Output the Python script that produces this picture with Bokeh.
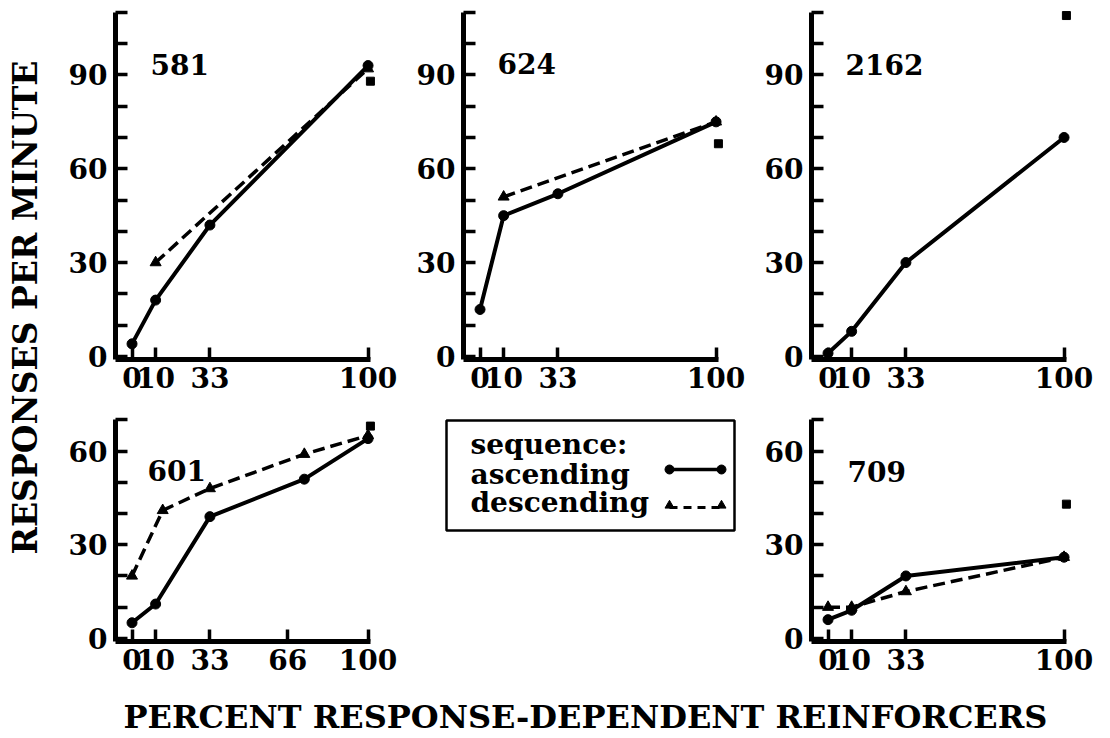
from bokeh.plotting import figure
from bokeh.models import Range1d, FixedTicker, Label, Spacer
from bokeh.layouts import row, column
from bokeh.embed import file_html
from bokeh.resources import INLINE

# ---------------- data ----------------
x_ticks_std = [0, 10, 33, 100]
x_ticks_601 = [0, 10, 33, 66, 100]

# bird 581
asc_581_x = [0, 10, 33, 100]
asc_581 = [4, 18, 42, 93]
desc_581_x = [10, 100]
desc_581 = [30, 92]
sq_581_x = [101]
sq_581 = [88]

# bird 624
asc_624_x = [0, 10, 33, 100]
asc_624 = [15, 45, 52, 75]
desc_624_x = [10, 100]
desc_624 = [51, 75]
sq_624_x = [101]
sq_624 = [68]

# bird 2162
asc_2162_x = [0, 10, 33, 100]
asc_2162 = [1, 8, 30, 70]
desc_2162_x = []
desc_2162 = []
sq_2162_x = [101]
sq_2162 = [109]

# bird 601
asc_601_x = [0, 10, 33, 73, 100]
asc_601 = [5, 11, 39, 51, 64]
desc_601_x = [0, 13, 33, 73, 100]
desc_601 = [20, 41, 48, 59, 65]
sq_601_x = [101]
sq_601 = [68]

# bird 709
asc_709_x = [0, 10, 33, 100]
asc_709 = [6, 9, 20, 26]
desc_709_x = [0, 10, 33, 100]
desc_709 = [10, 10, 15, 26]
sq_709_x = [101]
sq_709 = [43]

y_major_top = [0, 30, 60, 90]
y_minor_top = [10, 20, 40, 50, 70, 80, 100, 110]
y_major_bot = [0, 30, 60]
y_minor_bot = [10, 20, 40, 50, 70]

legend_title = "sequence:"
legend_labels = ["ascending", "descending"]
y_title = "RESPONSES PER MINUTE"
x_title = "PERCENT RESPONSE-DEPENDENT REINFORCERS"

FONT = "DejaVu Serif"


def base_fig(width, height, xr, yr, left, right, top, bottom, axes=True):
    kw = dict(width=width, height=height, x_range=Range1d(*xr), y_range=Range1d(*yr),
              toolbar_location=None, output_backend="svg",
              min_border_left=left, min_border_right=right,
              min_border_top=top, min_border_bottom=bottom)
    if not axes:
        kw.update(x_axis_type=None, y_axis_type=None)
    p = figure(**kw)
    p.outline_line_color = None
    p.background_fill_color = "white"
    p.border_fill_color = "white"
    if axes:
        p.xgrid.visible = False
        p.ygrid.visible = False
    return p


def panel(name, ax, ay, dx, dy, sx, sy, xticks, yr, ybounds, ymaj, ymin,
          width, height, left, right, top, bottom, lab_x, lab_y):
    p = base_fig(width, height, (-7, 104), yr, left, right, top, bottom)
    for ax_ in (p.xaxis[0], p.yaxis[0]):
        ax_.axis_line_width = 5
        ax_.axis_line_color = "black"
        ax_.major_tick_line_width = 3.5
        ax_.minor_tick_line_width = 3.5
        ax_.major_tick_in = 12
        ax_.major_tick_out = 0
        ax_.minor_tick_in = 12
        ax_.minor_tick_out = 0
        ax_.major_label_text_font = FONT
        ax_.major_label_text_font_style = "bold"
        ax_.major_label_text_font_size = "28px"
        ax_.major_label_text_color = "black"
    p.xaxis.ticker = FixedTicker(ticks=xticks)
    p.xaxis.bounds = (-7, 101)
    p.xaxis.major_label_standoff = 7
    p.yaxis.ticker = FixedTicker(ticks=ymaj, minor_ticks=ymin)
    p.yaxis.bounds = ybounds
    p.yaxis.major_label_standoff = 8

    if len(dx):
        p.line(dx, dy, line_width=3.5, line_color="black", line_dash="12 6")
        p.scatter(dx, dy, marker="triangle", size=11, fill_color="black", line_color="black")
    p.line(ax, ay, line_width=4, line_color="black")
    p.scatter(ax, ay, marker="circle", size=10, fill_color="black", line_color="black")
    p.scatter(sx, sy, marker="square", size=8, fill_color="black", line_color="black")

    p.add_layout(Label(x=lab_x, y=lab_y, text=name, text_font=FONT, text_font_style="bold",
                       text_font_size="28px", text_color="black", text_baseline="middle"))
    return p


TOP_H, BOT_H = 392, 290
top_yr = (-1, 111.25)
bot_yr = (-1, 73)

p1 = panel("581", asc_581_x, asc_581, desc_581_x, desc_581, sq_581_x, sq_581, x_ticks_std,
           top_yr, (-1, 110), y_major_top, y_minor_top, 346, TOP_H, 61, 23, 0, 41, 7.8, 93.5)
p2 = panel("624", asc_624_x, asc_624, desc_624_x, desc_624, sq_624_x, sq_624, x_ticks_std,
           top_yr, (-1, 110), y_major_top, y_minor_top, 350, TOP_H, 63, 25, 0, 41, 7.4, 93.8)
p3 = panel("2162", asc_2162_x, asc_2162, desc_2162_x, desc_2162, sq_2162_x, sq_2162, x_ticks_std,
           top_yr, (-1, 110), y_major_top, y_minor_top, 350, TOP_H, 61, 27, 0, 41, 7.4, 93.4)
p4 = panel("601", asc_601_x, asc_601, desc_601_x, desc_601, sq_601_x, sq_601, x_ticks_601,
           bot_yr, (-1, 70), y_major_bot, y_minor_bot, 346, BOT_H, 61, 23, 10, 49, 6.6, 53.8)
p6 = panel("709", asc_709_x, asc_709, desc_709_x, desc_709, sq_709_x, sq_709, x_ticks_std,
           bot_yr, (-1, 70), y_major_bot, y_minor_bot, 350, BOT_H, 61, 27, 10, 49, 8.3, 53.6)

# legend box: same borders as its row neighbours, so the frame is aligned; data units = pixels
leg = base_fig(350, BOT_H, (0, 350), (49, BOT_H - 10), 0, 0, 10, 49, axes=False)
leg.quad(left=[46], right=[334], bottom=[160], top=[270], fill_color=None,
         line_color="black", line_width=2.5)
for txt, yy in ((legend_title, 246.5), (legend_labels[0], 216.5), (legend_labels[1], 188)):
    leg.add_layout(Label(x=70, y=yy, text=txt, text_font=FONT, text_font_style="bold",
                         text_font_size="28px", text_color="black", text_baseline="middle"))
leg.line([269, 321], [221, 221], line_width=3.5, line_color="black")
leg.scatter([269, 321], [221, 221], marker="circle", size=9, fill_color="black", line_color="black")
leg.line([269, 321], [183, 183], line_width=3, line_color="black", line_dash="8 6")
leg.scatter([269, 321], [185, 185], marker="triangle", size=9, fill_color="black", line_color="black")

# y title (figure starts at the page's left edge)
YT_W = 54
yt = base_fig(YT_W, TOP_H + BOT_H, (0, YT_W), (0, TOP_H + BOT_H), 0, 0, 0, 0, axes=False)
yt.add_layout(Label(x=25, y=383, text=y_title, angle=1.5707963,
                    text_font=FONT, text_font_style="bold", text_font_size="33px",
                    text_color="black", text_align="center", text_baseline="middle"))

# x title
XT_W = YT_W + 346 + 350 + 350
XT_H = 46
xt = base_fig(XT_W, XT_H, (0, XT_W), (0, XT_H), 0, 0, 0, 0, axes=False)
xt.add_layout(Label(x=585, y=20, text=x_title,
                    text_font=FONT, text_font_style="bold", text_font_size="32px",
                    text_color="black", text_align="center", text_baseline="middle"))

body = column(row(yt, column(row(p1, p2, p3), row(p4, leg, p6))), xt)
layout = column(Spacer(height=8), body)

open("out.html", "w").write(file_html(layout, INLINE))
